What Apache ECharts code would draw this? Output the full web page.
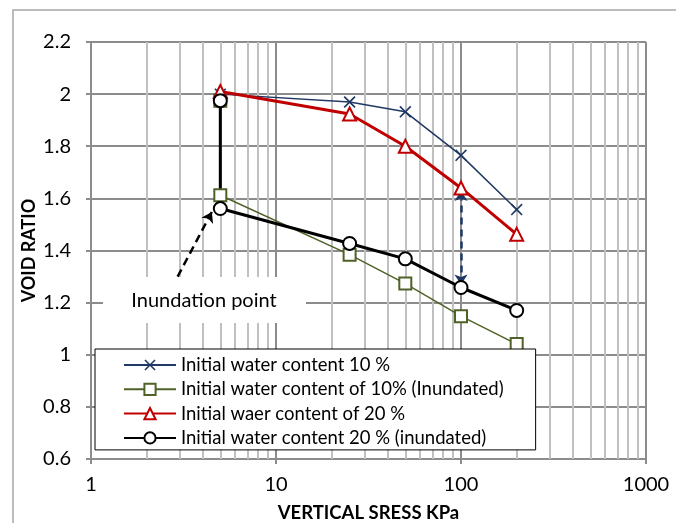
<!DOCTYPE html>
<html>
<head>
<meta charset="utf-8">
<script src="https://cdn.jsdelivr.net/npm/echarts@6/dist/echarts.min.js"></script>
<style>
  html, body { margin: 0; padding: 0; background: #ffffff; }
  #chart { width: 676px; height: 523px; }
</style>
</head>
<body>
<div id="chart"></div>
<script>
// Oedometer results: void ratio against vertical stress (log scale)
const seriesNames = [
  'Initial water content 10 %',
  'Initial water content of 10% (Inundated)',
  'Initial waer content of 20 %',
  'Initial water content 20 % (inundated)'
];
const stress10 = [5, 25, 50, 100, 200];
const voidRatio10 = [2.0, 1.97, 1.932, 1.765, 1.557];
const stress10Inundated = [5, 5, 25, 50, 100, 200];
const voidRatio10Inundated = [1.975, 1.612, 1.384, 1.273, 1.148, 1.041];
const stress20 = [5, 25, 50, 100, 200];
const voidRatio20 = [2.01, 1.924, 1.80, 1.64, 1.462];
const stress20Inundated = [5, 5, 25, 50, 100, 200];
const voidRatio20Inundated = [1.975, 1.561, 1.427, 1.368, 1.258, 1.17];

// Minor decade lines of the log grid
const minorStress = [2, 3, 4, 5, 6, 7, 8, 9, 20, 30, 40, 50, 60, 70, 80, 90,
                     200, 300, 400, 500, 600, 700, 800, 900];
// Inundation arrows (stress, void ratio)
const inundationArrow = [[2.94, 1.30], [4.5, 1.548]];
const collapseArrow = [[100, 1.27], [100, 1.628]];

const FONT = 'Lato';
const pairs = (xs, ys) => xs.map((x, i) => [x, ys[i]]);
const crossPath = 'path://M0,1 L1,0 L5,4 L9,0 L10,1 L6,5 L10,9 L9,10 L5,6 L1,10 L0,9 L4,5 Z';

const chart = echarts.init(document.getElementById('chart'), null, { renderer: 'canvas' });

chart.setOption({
  animation: false,
  backgroundColor: '#ffffff',
  textStyle: { fontFamily: FONT },
  grid: { left: 91, right: 30, top: 42, bottom: 64, containLabel: false,
          outerBoundsMode: 'none' },
  xAxis: {
    type: 'log',
    logBase: 10,
    min: 1,
    max: 1000,
    name: 'VERTICAL SRESS KPa',
    nameLocation: 'middle',
    nameGap: 45,
    nameTextStyle: { fontFamily: FONT, fontWeight: 'bold', fontSize: 18.5, color: '#000' },
    axisLine: { lineStyle: { color: '#8c8c8c', width: 2 } },
    axisTick: { show: true, length: 5, lineStyle: { color: '#8c8c8c', width: 2 } },
    axisLabel: { fontFamily: FONT, fontSize: 20, color: '#000', margin: 16,
                 formatter: v => String(v) },
    splitLine: { show: true, lineStyle: { color: '#8c8c8c', width: 2 } }
  },
  yAxis: {
    type: 'value',
    min: 0.6,
    max: 2.2,
    interval: 0.2,
    name: 'VOID RATIO',
    nameLocation: 'middle',
    nameGap: 53,
    nameMoveOverlap: false,
    nameTextStyle: { fontFamily: FONT, fontWeight: 'bold', fontSize: 18, color: '#000' },
    axisLine: { show: true, lineStyle: { color: '#8c8c8c', width: 2 } },
    axisTick: { show: true, length: 5, lineStyle: { color: '#8c8c8c', width: 2 } },
    axisLabel: { fontFamily: FONT, fontSize: 20, color: '#000', margin: 20 },
    splitLine: { show: true, lineStyle: { color: '#8c8c8c', width: 2 } }
  },
  legend: {
    orient: 'vertical',
    left: 95,
    top: 349,
    z: 6,
    backgroundColor: '#ffffff',
    borderColor: '#000000',
    borderWidth: 1,
    borderRadius: 0,
    padding: [6, 32, 2, 28],
    itemWidth: 52,
    itemHeight: 14,
    itemGap: 4.3,
    data: seriesNames,
    textStyle: { fontFamily: FONT, fontSize: 18.5, lineHeight: 20, color: '#000' }
  },
  graphic: [
    {
      type: 'rect',
      z: 0,
      silent: true,
      shape: { x: 13, y: 10, width: 700, height: 560 },
      style: { fill: 'none', stroke: '#a6a6a6', lineWidth: 1.5 }
    },
    {
      type: 'rect',
      z: 2,
      silent: true,
      shape: { x: 103, y: 277, width: 203, height: 46 },
      style: { fill: '#ffffff', stroke: 'none' }
    },
    {
      type: 'text',
      z: 3,
      silent: true,
      x: 204,
      y: 301,
      style: {
        text: 'Inundation point',
        fontFamily: FONT,
        fontSize: 20,
        fill: '#000',
        align: 'center',
        verticalAlign: 'middle'
      }
    }
  ],
  series: [
    {
      // light minor grid of the log axis
      type: 'line',
      z: 1,
      silent: true,
      data: [],
      markLine: {
        z: 1,
        silent: true,
        symbol: ['none', 'none'],
        label: { show: false },
        lineStyle: { color: '#c0c0c0', width: 2, type: 'solid' },
        data: minorStress.map(v => ({ xAxis: v }))
      }
    },
    {
      name: seriesNames[0],
      type: 'line',
      z: 3,
      data: pairs(stress10, voidRatio10),
      symbol: crossPath,
      symbolSize: 12,
      lineStyle: { color: '#1f3864', width: 1.5 },
      itemStyle: { color: '#1f3864' }
    },
    {
      name: seriesNames[1],
      type: 'line',
      z: 3,
      data: pairs(stress10Inundated, voidRatio10Inundated),
      symbol: 'emptyRect',
      symbolSize: 12,
      lineStyle: { color: '#4f6228', width: 1.5 },
      itemStyle: { color: '#4f6228', borderWidth: 1.5 }
    },
    {
      name: seriesNames[2],
      type: 'line',
      z: 3,
      data: pairs(stress20, voidRatio20),
      symbol: 'emptyTriangle',
      symbolSize: 13,
      lineStyle: { color: '#c00000', width: 3 },
      itemStyle: { color: '#c00000', borderWidth: 2.5 }
    },
    {
      name: seriesNames[3],
      type: 'line',
      z: 3,
      data: pairs(stress20Inundated, voidRatio20Inundated),
      symbol: 'emptyCircle',
      symbolSize: 13,
      lineStyle: { color: '#000000', width: 3 },
      itemStyle: { color: '#000000', borderWidth: 2.5 },
      markLine: {
        z: 3,
        silent: true,
        label: { show: false },
        symbolSize: 10,
        data: [
          [
            { coord: inundationArrow[0], symbol: 'none',
              lineStyle: { color: '#000', width: 2.5, type: [8, 5] } },
            { coord: inundationArrow[1], symbol: 'arrow' }
          ],
          [
            { coord: collapseArrow[0], symbol: 'arrow',
              lineStyle: { color: '#1f3864', width: 2.5, type: [7, 5] } },
            { coord: collapseArrow[1], symbol: 'arrow' }
          ]
        ]
      }
    }
  ]
});
</script>
</body>
</html>
